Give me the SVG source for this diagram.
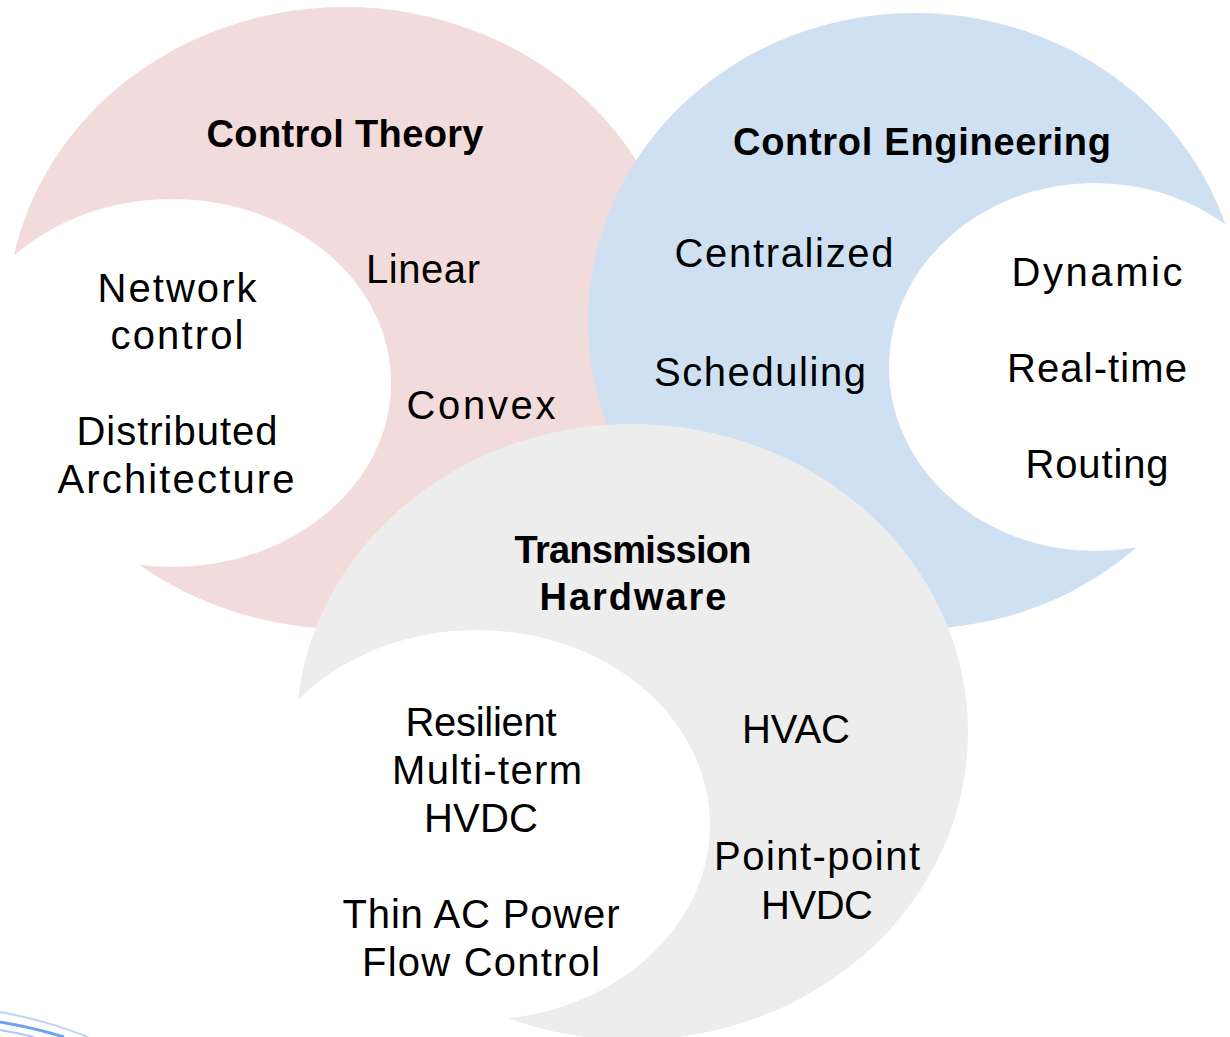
<svg xmlns="http://www.w3.org/2000/svg" width="1230" height="1037" viewBox="0 0 1230 1037">
  <style>
    .t { font-family: "Liberation Sans", Arial, sans-serif; font-size: 40px; fill: #000; text-anchor: middle; }
    .h { font-family: "Liberation Sans", Arial, sans-serif; font-size: 38px; font-weight: bold; fill: #000; text-anchor: middle; }
    .swoosh { fill: none; stroke: #3b86e6; }
  </style>
  <defs>
    <mask id="m-theory" maskUnits="userSpaceOnUse" x="0" y="0" width="1230" height="1037">
      <rect x="0" y="0" width="1230" height="1037" fill="#fff"/>
      <ellipse cx="172" cy="383" rx="219" ry="184" fill="#000"/>
    </mask>
    <mask id="m-eng" maskUnits="userSpaceOnUse" x="0" y="0" width="1230" height="1037">
      <rect x="0" y="0" width="1230" height="1037" fill="#fff"/>
      <ellipse cx="1095" cy="367" rx="206" ry="184" fill="#000"/>
    </mask>
    <mask id="m-hw" maskUnits="userSpaceOnUse" x="0" y="0" width="1230" height="1037">
      <rect x="0" y="0" width="1230" height="1037" fill="#fff"/>
      <ellipse cx="477" cy="825" rx="233" ry="195" fill="#000"/>
    </mask>
  </defs>
  <rect x="0" y="0" width="1230" height="1037" fill="#ffffff"/>

  <g id="swoosh">
    <path class="swoosh" d="M0,1012 Q45,1020 88,1037" stroke-width="2" stroke-opacity="0.35"/>
    <path class="swoosh" d="M0,1022 Q35,1028 64,1037" stroke-width="3" stroke-opacity="0.75"/>
    <path class="swoosh" d="M0,1030 Q18,1033 34,1037" stroke-width="2" stroke-opacity="0.45"/>
  </g>

  <g id="node-control-theory">
    <ellipse cx="345" cy="318" rx="338" ry="311" fill="#f2dcdb" mask="url(#m-theory)"/>
    <text class="h" x="345" y="147" textLength="277" lengthAdjust="spacing">Control Theory</text>
    <text class="t" x="423" y="283" textLength="114" lengthAdjust="spacing">Linear</text>
    <text class="t" x="481" y="419" textLength="149" lengthAdjust="spacing">Convex</text>
    <text class="t" x="177" y="302" textLength="159" lengthAdjust="spacing">Network</text>
    <text class="t" x="177" y="349" textLength="133" lengthAdjust="spacing">control</text>
    <text class="t" x="177" y="445" textLength="201" lengthAdjust="spacing">Distributed</text>
    <text class="t" x="176" y="493" textLength="237" lengthAdjust="spacing">Architecture</text>
  </g>

  <g id="node-control-engineering">
    <ellipse cx="915" cy="321" rx="327" ry="308" fill="#cfe0f2" mask="url(#m-eng)"/>
    <text class="h" x="922" y="155" textLength="378" lengthAdjust="spacing">Control Engineering</text>
    <text class="t" x="784" y="267" textLength="219" lengthAdjust="spacing">Centralized</text>
    <text class="t" x="760" y="386" textLength="212" lengthAdjust="spacing">Scheduling</text>
    <text class="t" x="1097" y="286" textLength="171" lengthAdjust="spacing">Dynamic</text>
    <text class="t" x="1097" y="382" textLength="180" lengthAdjust="spacing">Real-time</text>
    <text class="t" x="1097" y="478" textLength="143" lengthAdjust="spacing">Routing</text>
  </g>

  <g id="node-transmission-hardware">
    <ellipse cx="632" cy="732" rx="336" ry="308" fill="#ededed" mask="url(#m-hw)"/>
    <text class="h" x="633" y="563" textLength="237" lengthAdjust="spacing">Transmission</text>
    <text class="h" x="633" y="610" textLength="187" lengthAdjust="spacing">Hardware</text>
    <text class="t" x="796" y="743" textLength="108" lengthAdjust="spacing">HVAC</text>
    <text class="t" x="817" y="870" textLength="206" lengthAdjust="spacing">Point-point</text>
    <text class="t" x="817" y="919" textLength="112" lengthAdjust="spacing">HVDC</text>
    <text class="t" x="481" y="736" textLength="151" lengthAdjust="spacing">Resilient</text>
    <text class="t" x="487" y="784" textLength="190" lengthAdjust="spacing">Multi-term</text>
    <text class="t" x="481" y="832" textLength="114" lengthAdjust="spacing">HVDC</text>
    <text class="t" x="481" y="928" textLength="277" lengthAdjust="spacing">Thin AC Power</text>
    <text class="t" x="481" y="976" textLength="238" lengthAdjust="spacing">Flow Control</text>
  </g>

  <g id="connectors"/>
</svg>
